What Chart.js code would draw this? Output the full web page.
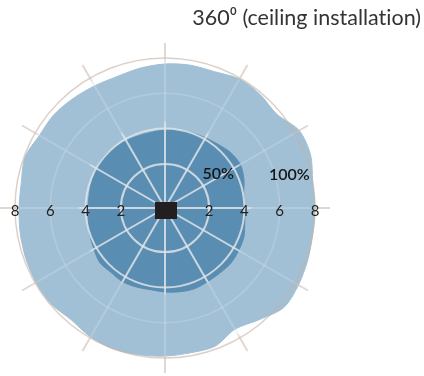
<!DOCTYPE html>
<html><head><meta charset="utf-8">
<script src="https://cdn.jsdelivr.net/npm/chart.js@4/dist/chart.umd.min.js"></script>
<style>html,body{margin:0;padding:0;background:#fff}#wrap{position:relative;width:424px;height:376px}</style>
</head><body><div id="wrap"><canvas id="c" width="424" height="376"></canvas></div>
<script>
// Angles (degrees, clockwise from top)
const angles = [0,10,20,30,40,50,60,70,80,90,100,110,120,130,140,150,160,170,180,190,200,210,220,230,240,250,260,270,280,290,300,310,320,330,340,350];
// Coverage radius (m) of the 100% zone (outer, light)
const outerCoverage = [7.66,7.72,7.72,7.94,7.89,7.77,8.28,8.28,8.0,8.0,8.0,8.11,8.23,8.28,7.77,7.43,7.83,7.83,7.89,7.94,8.0,7.94,7.77,7.94,7.94,7.89,7.83,7.77,7.77,7.94,7.72,7.72,7.6,7.49,7.43,7.55];
// Coverage radius (m) of the 50% zone (inner, dark)
const innerCoverage = [3.92,3.98,4.03,4.09,4.2,4.37,4.43,4.26,4.03,4.03,4.09,4.26,4.32,4.37,4.32,4.32,4.37,4.32,4.26,4.2,4.26,4.32,4.26,4.32,4.15,4.03,3.92,3.86,3.86,3.92,3.98,4.03,3.98,3.92,3.86,3.86];
const ringValues = [2,4,6,8];
const ringLabels = ['2','4','6','8'];
const zoneLabels = ['50%','100%'];
const zoneLabelValues = [3.1,6.8];
const zoneLabelAngles = [57,75];
const titleText = '360\u2070 (ceiling installat\u200Cion)';

function ringColor(v){
  if (v === 8) return 'rgba(196,178,165,0.6)';
  if (v === 6) return 'rgba(205,218,230,0.4)';
  return 'rgba(222,228,232,0.85)';
}

let spokeGrad = null, spokeKey = '';
function spokeColor(chart){
  const s = chart.scales.r;
  const key = s.xCenter + ',' + s.yCenter + ',' + s.drawingArea;
  if (key !== spokeKey) {
    const R = s.drawingArea;
    const f = v => s.getDistanceFromCenterForValue(v) / R;
    const g = chart.ctx.createRadialGradient(s.xCenter, s.yCenter, 0, s.xCenter, s.yCenter, R);
    g.addColorStop(0, 'rgba(222,228,233,0.85)');
    g.addColorStop(f(4.3), 'rgba(222,228,233,0.85)');
    g.addColorStop(f(4.5), 'rgba(210,222,232,0.35)');
    g.addColorStop(f(7.6), 'rgba(210,222,232,0.35)');
    g.addColorStop(f(8.0), 'rgba(205,190,178,0.6)');
    g.addColorStop(1, 'rgba(205,190,178,0.6)');
    spokeGrad = g; spokeKey = key;
  }
  return spokeGrad;
}

const overlay = {
  id: 'overlay',
  afterDraw(chart){
    const s = chart.scales.r, ctx = chart.ctx;
    ctx.save();
    ctx.fillStyle = '#222';
    ctx.textAlign = 'center';
    ctx.textBaseline = 'middle';
    ctx.font = '400 15px Lato';
    ringValues.forEach((v,i)=>{
      const d = s.getDistanceFromCenterForValue(v);
      ctx.fillText(ringLabels[i], s.xCenter - d, s.yCenter + 3.5);
      ctx.fillText(ringLabels[i], s.xCenter + d, s.yCenter + 3.5);
    });
    ctx.fillStyle = '#151515';
    ctx.font = '600 16px Lato';
    zoneLabels.forEach((t,i)=>{
      const d = s.getDistanceFromCenterForValue(zoneLabelValues[i]);
      const a = zoneLabelAngles[i]*Math.PI/180;
      ctx.fillText(t, s.xCenter + d*Math.sin(a), s.yCenter - d*Math.cos(a));
    });
    ctx.fillStyle = '#231f20';
    ctx.fillRect(s.xCenter - 10, s.yCenter - 6, 22, 17);
    ctx.fillStyle = '#333';
    ctx.textAlign = 'right';
    ctx.font = '400 21.5px Lato';
    ctx.fillText(titleText, 421, 18);
    ctx.restore();
  }
};

new Chart(document.getElementById('c'), {
  type: 'radar',
  data: {
    labels: angles.map(a => a + '\u00b0'),
    datasets: [
      {label:'50%', data: innerCoverage, backgroundColor:'#5a8db2', borderColor:'#5a8db2', borderWidth:1, pointRadius:0, fill:'start', tension:0.3},
      {label:'100%', data: outerCoverage, backgroundColor:'#a1c0d6', borderColor:'#a1c0d6', borderWidth:1, pointRadius:0, fill:'start', tension:0.3}
    ]
  },
  options: {
    responsive:false, devicePixelRatio:1, animation:false,
    layout:{padding:{left:0, top:43, right:94, bottom:3}},
    plugins:{legend:{display:false}, tooltip:{enabled:false}, title:{display:false}},
    scales:{
      r:{
        min:-0.5, max:8.85, startAngle:0,
        ticks:{display:false},
        afterBuildTicks: sc => { sc.ticks = ringValues.map(v => ({value:v})); },
        pointLabels:{display:false},
        grid:{circular:true, z:1, color: c => ringColor(c.tick ? c.tick.value : 0), lineWidth: c => (c.tick && c.tick.value >= 6) ? 1.5 : 2},
        angleLines:{display:true, color: c => (c.index % 3 === 0) ? spokeColor(c.chart) : 'rgba(0,0,0,0)', lineWidth:2}
      }
    }
  },
  plugins:[overlay]
});
</script></body></html>
